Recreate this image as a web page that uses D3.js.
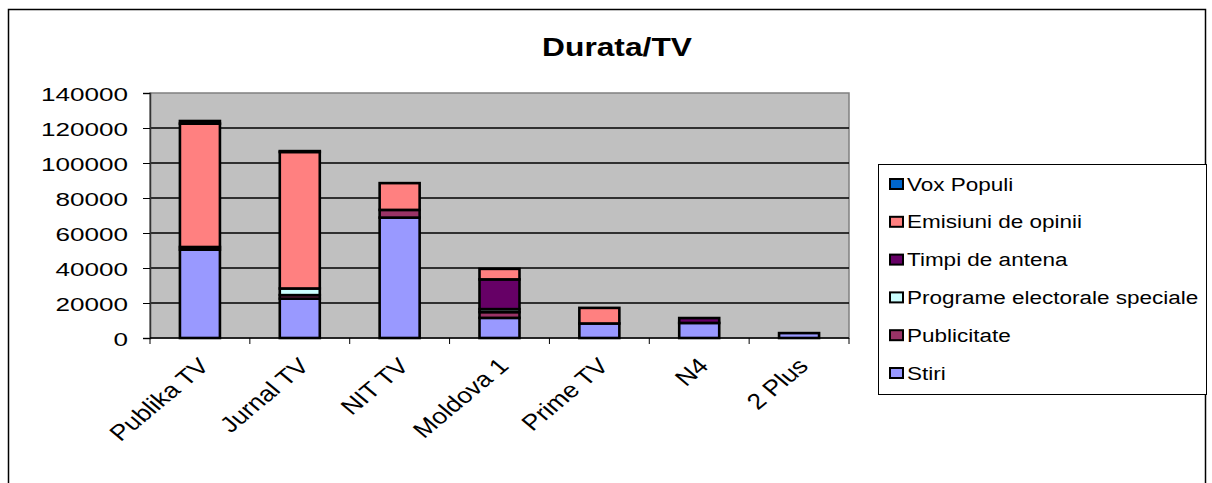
<!DOCTYPE html>
<html>
<head>
<meta charset="utf-8">
<script src="https://cdn.jsdelivr.net/npm/d3@7"></script>
<style>
	body { margin: 0; background: #fff; }
	text { font-family: "Liberation Sans", Arial, sans-serif; fill: #000; }
</style>
</head>
<body>
<div id="chart"></div>
<script>
var categories = ['Publika TV', 'Jurnal TV', 'NIT TV', 'Moldova 1', 'Prime TV', 'N4', '2 Plus'];
var seriesNames = ['Stiri', 'Publicitate', 'Programe electorale speciale', 'Timpi de antena', 'Emisiuni de opinii', 'Vox Populi'];
var stiri = [50500, 22500, 68800, 11500, 8300, 8600, 2800];
var publicitate = [1500, 2000, 4400, 3300, 0, 0, 0];
var programe = [0, 3800, 0, 1700, 0, 0, 0];
var timpi = [0, 0, 0, 17000, 0, 2800, 0];
var emisiuni = [70500, 78000, 15300, 6000, 8900, 0, 0];
var voxPopuli = [1500, 500, 0, 0, 0, 0, 0];
var yTicks = [0, 20000, 40000, 60000, 80000, 100000, 120000, 140000];

var colors = ['#9999FF', '#993366', '#CCFFFF', '#660066', '#FF8080', '#0066CC'];

var width = 1212,
	height = 483;

var plot = { left: 150, top: 93, right: 849, bottom: 338 };

var svg = d3.select('#chart').append('svg')
	.attr('width', width)
	.attr('height', height);

// outer frame
svg.append('rect')
	.attr('x', 8.5).attr('y', 9.5)
	.attr('width', 1197).attr('height', 490)
	.attr('fill', '#fff')
	.attr('stroke', '#000')
	.attr('stroke-width', 1.5);

svg.append('text')
	.attr('transform', 'translate(617,56) scale(1.22,1)')
	.attr('text-anchor', 'middle')
	.style('font-size', '26px')
	.style('font-weight', 'bold')
	.text('Durata/TV');

var x = d3.scaleBand()
	.domain(categories)
	.range([plot.left, plot.right])
	.paddingInner(0.6)
	.paddingOuter(0.3);

var y = d3.scaleLinear()
	.domain([0, 140000])
	.range([plot.bottom, plot.top]);

// plot area
svg.append('rect')
	.attr('x', plot.left).attr('y', plot.top)
	.attr('width', plot.right - plot.left)
	.attr('height', plot.bottom - plot.top)
	.attr('fill', '#C0C0C0')
	.attr('stroke', '#808080')
	.attr('stroke-width', 1.5);

svg.append('g').selectAll('line')
	.data(yTicks.filter(function(d) { return d > 0 && d < 140000; }))
	.enter().append('line')
	.attr('x1', plot.left).attr('x2', plot.right)
	.attr('y1', function(d) { return y(d); })
	.attr('y2', function(d) { return y(d); })
	.attr('stroke', '#000')
	.attr('stroke-width', 1.5);

var table = categories.map(function(c, i) {
	return { cat: c, s0: stiri[i], s1: publicitate[i], s2: programe[i], s3: timpi[i], s4: emisiuni[i], s5: voxPopuli[i] };
});
var stack = d3.stack().keys(['s0', 's1', 's2', 's3', 's4', 's5']);
var layers = stack(table);

var bw = 40;
svg.append('g').selectAll('g')
	.data(layers)
	.enter().append('g')
	.attr('fill', function(d, i) { return colors[i]; })
	.selectAll('rect')
	.data(function(d) { return d.filter(function(p) { return p[1] > p[0]; }); })
	.enter().append('rect')
	.attr('x', function(d) { return x(d.data.cat) + x.bandwidth() / 2 - bw / 2; })
	.attr('y', function(d) { return y(d[1]); })
	.attr('width', bw)
	.attr('height', function(d) { return y(d[0]) - y(d[1]); })
	.attr('stroke', '#000')
	.attr('stroke-width', 2.6);

// y axis
var yAxis = d3.axisLeft(y).tickValues(yTicks).tickSize(7).tickFormat(d3.format('d'));
var ya = svg.append('g')
	.attr('transform', 'translate(' + plot.left + ',0)')
	.call(yAxis);
ya.select('.domain').attr('stroke', '#333').attr('stroke-width', 1.5);
ya.selectAll('.tick line').attr('stroke', '#000');
ya.selectAll('.tick text')
	.attr('x', null).attr('dy', null)
	.attr('transform', 'translate(-22,7) scale(1.45,1)')
	.style('font-size', '18px')
	.attr('text-anchor', 'end');

// x axis
var step = x.step();
var xa = svg.append('g');
xa.append('line')
	.attr('x1', plot.left).attr('x2', plot.right)
	.attr('y1', plot.bottom).attr('y2', plot.bottom)
	.attr('stroke', '#000').attr('stroke-width', 1.5);
xa.selectAll('.xt')
	.data(d3.range(categories.length + 1))
	.enter().append('line')
	.attr('x1', function(i) { return plot.left + i * step; })
	.attr('x2', function(i) { return plot.left + i * step; })
	.attr('y1', plot.bottom).attr('y2', plot.bottom + 6)
	.attr('stroke', '#000');
xa.selectAll('.xl')
	.data(categories)
	.enter().append('text')
	.attr('transform', function(d) {
		return 'translate(' + (x(d) + x.bandwidth() / 2 + 4) + ',' + (plot.bottom + 24) + ') scale(1.2,1) rotate(-45)';
	})
	.attr('text-anchor', 'end')
	.attr('dy', '0.35em')
	.style('font-size', '22px')
	.text(function(d) { return d; });

// legend
var legend = svg.append('g');
legend.append('rect')
	.attr('x', 878.5).attr('y', 164.5)
	.attr('width', 328).attr('height', 230)
	.attr('fill', '#fff')
	.attr('stroke', '#000')
	.attr('stroke-width', 1);

var legendOrder = d3.range(seriesNames.length).reverse();
var li = legend.selectAll('.li')
	.data(legendOrder)
	.enter().append('g')
	.attr('transform', function(d, k) { return 'translate(890,' + (184 + k * 37.8) + ')'; });
li.append('rect')
	.attr('x', 0).attr('y', -5)
	.attr('width', 13).attr('height', 10)
	.attr('fill', function(d) { return colors[d]; })
	.attr('stroke', '#000')
	.attr('stroke-width', 2);
li.append('text')
	.attr('transform', 'translate(17,6.5) scale(1.25,1)')
	.style('font-size', '18px')
	.text(function(d) { return seriesNames[d]; });
</script>
</body>
</html>
